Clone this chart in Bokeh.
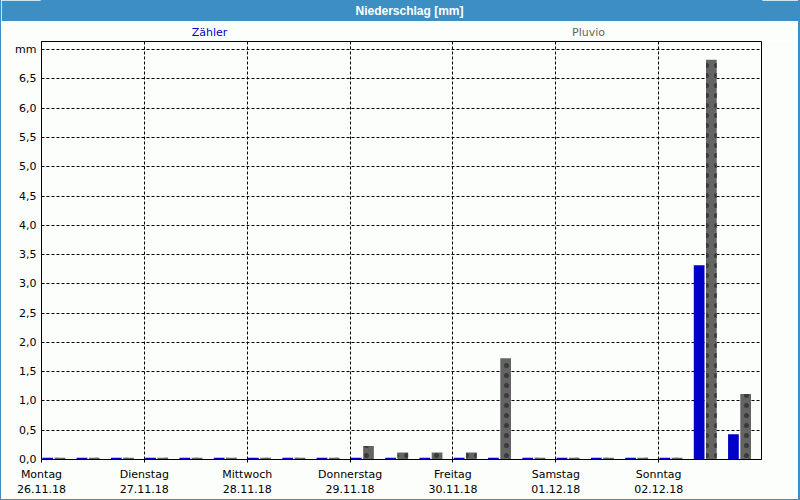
from bokeh.plotting import figure
from bokeh.models import Range1d, FixedTicker, Label, ColumnDataSource
from bokeh.layouts import column
from bokeh.transform import dodge
from bokeh.embed import file_html
from bokeh.resources import INLINE

# ---- data ----
title_text = "Niederschlag [mm]"
series_names = ["Zähler", "Pluvio"]
day_names = ["Montag", "Dienstag", "Mittwoch", "Donnerstag", "Freitag", "Samstag", "Sonntag"]
day_dates = ["26.11.18", "27.11.18", "28.11.18", "29.11.18", "30.11.18", "01.12.18", "02.12.18"]
day_start_h = [0, 24, 48, 72, 96, 120, 144]
slot_start_h = [0, 8, 16, 24, 32, 40, 48, 56, 64, 72, 80, 88, 96, 104, 112, 120, 128, 136, 144, 152, 160]
zaehler = [0.03, 0.03, 0.03, 0.03, 0.03, 0.03, 0.03, 0.03, 0.03, 0.03, 0.03, 0.03, 0.03, 0.03,
           0.03, 0.03, 0.03, 0.03, 0.03, 3.32, 0.43]
pluvio = [0.03, 0.03, 0.03, 0.03, 0.03, 0.03, 0.03, 0.03, 0.03, 0.23, 0.12, 0.12, 0.12, 1.73,
          0.03, 0.03, 0.03, 0.03, 0.03, 6.83, 1.12]
y_ticks = [0.0, 0.5, 1.0, 1.5, 2.0, 2.5, 3.0, 3.5, 4.0, 4.5, 5.0, 5.5, 6.0, 6.5, 7.0]
y_tick_labels = ["0,0", "0,5", "1,0", "1,5", "2,0", "2,5", "3,0", "3,5", "4,0", "4,5",
                 "5,0", "5,5", "6,0", "6,5", "mm"]

FONT = "DejaVu Sans"
BG = "#FCFEFC"
BAR_BLUE = "#0000C8"
BAR_GRAY = "#646464"
HEAD = "#3D8FC3"

W = 797          # figure width inside the 1px/2px outer frame
BL, BR = 40, 37  # left/right borders shared by all rows (frame spans page x 41..761)

# ---- header bar ----
head = figure(width=W, height=21, x_axis_type=None, y_axis_type=None,
              toolbar_location=None, output_backend="svg",
              x_range=Range1d(0, 1), y_range=Range1d(0, 1),
              min_border_left=BL, min_border_right=BR, min_border_top=0, min_border_bottom=0,
              outline_line_color=HEAD, outline_line_width=2,
              background_fill_color=HEAD, border_fill_color=HEAD)
head.add_layout(Label(x=368, y=10.5, x_units="screen", y_units="screen", text=title_text,
                      text_align="center", text_baseline="middle", text_color="white",
                      text_font="Liberation Sans", text_font_style="bold", text_font_size="12px"))

# ---- series-name row ----
leg = figure(width=W, height=19, x_axis_type=None, y_axis_type=None,
             toolbar_location=None, output_backend="svg",
             x_range=Range1d(0, 168), y_range=Range1d(0, 1),
             min_border_left=BL, min_border_right=BR, min_border_top=0, min_border_bottom=0,
             outline_line_color=BG, outline_line_width=2,
             background_fill_color=BG, border_fill_color=BG)
leg.add_layout(Label(x=168, y=8, x_units="screen", y_units="screen", text=series_names[0],
                     text_align="center", text_baseline="middle", text_font=FONT,
                     text_font_size="11px", text_color=BAR_BLUE))
leg.add_layout(Label(x=547, y=8, x_units="screen", y_units="screen", text=series_names[1],
                     text_align="center", text_baseline="middle", text_font=FONT,
                     text_font_size="11px", text_color=BAR_GRAY))

# ---- main chart ----
src = ColumnDataSource(dict(x=slot_start_h, z=zaehler, p=pluvio))

p = figure(width=W, height=459, toolbar_location=None, output_backend="svg",
           x_range=Range1d(0, 168), y_range=Range1d(0, 7.14),
           min_border_left=BL, min_border_right=BR, min_border_top=1, min_border_bottom=39,
           background_fill_color=BG, border_fill_color=BG,
           outline_line_color="black", outline_line_width=1)

p.vbar(x=dodge("x", 1.45), top="z", width=2.5, bottom=0, source=src,
       fill_color=BAR_BLUE, line_color=None)
p.vbar(x=dodge("x", 4.3), top="p", width=2.5, bottom=0, source=src,
       fill_color=BAR_GRAY, line_color=None,
       hatch_pattern=".", hatch_color="#3A3A3A", hatch_scale=10, hatch_weight=0.5)

# axes
p.yaxis.ticker = FixedTicker(ticks=y_ticks)
p.yaxis.major_label_overrides = {t: l for t, l in zip(y_ticks, y_tick_labels)}
p.yaxis.major_tick_out = 0
p.yaxis.major_tick_in = 0
p.yaxis.minor_tick_out = 0
p.yaxis.minor_tick_in = 0
p.yaxis.major_label_standoff = 5
p.yaxis.axis_line_color = "black"
p.yaxis.major_label_text_font = FONT
p.yaxis.major_label_text_font_size = "11px"
p.yaxis.major_label_text_color = "black"

p.xaxis.ticker = FixedTicker(ticks=day_start_h)
p.xaxis.major_label_overrides = {h: f"{n}\n{d}" for h, n, d in zip(day_start_h, day_names, day_dates)}
p.xaxis.major_tick_out = 3
p.xaxis.major_tick_in = 0
p.xaxis.minor_tick_out = 0
p.xaxis.minor_tick_in = 0
p.xaxis.major_label_standoff = 5
p.xaxis.axis_line_color = "black"
p.xaxis.major_label_text_font = FONT
p.xaxis.major_label_text_font_size = "11px"
p.xaxis.major_label_text_color = "black"

# grids
for g in (p.xgrid, p.ygrid):
    g.grid_line_color = "black"
    g.grid_line_dash = "3 2"
    g.grid_line_width = 1

layout = column(head, leg, p, spacing=0,
                styles={"border-left": "1px solid " + HEAD, "border-right": "2px solid " + HEAD,
                        "border-bottom": "1px solid " + HEAD})

open("out.html", "w").write(file_html(layout, INLINE))
